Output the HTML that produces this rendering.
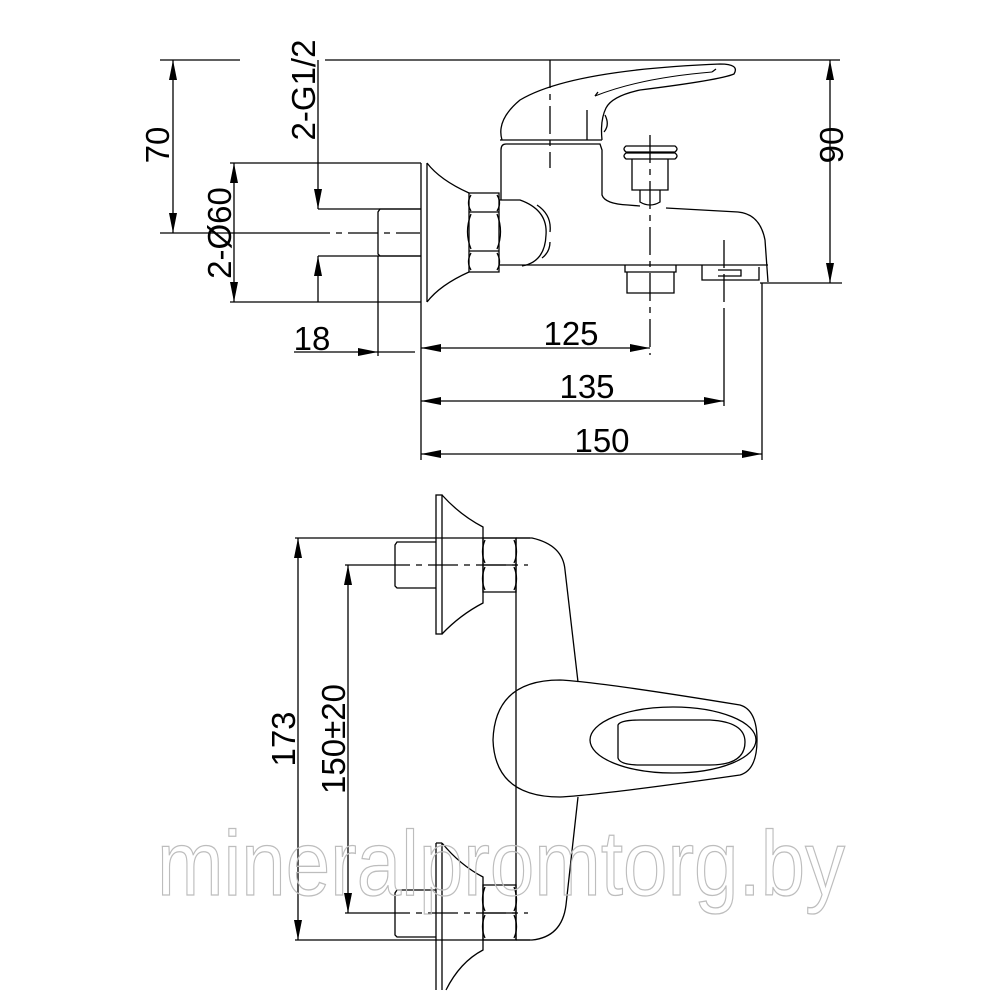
<!DOCTYPE html>
<html><head><meta charset="utf-8"><style>
html,body{margin:0;padding:0;background:#fff}
svg{display:block}
text{font-family:"Liberation Sans",sans-serif;fill:#000}
</style></head><body>
<svg width="1000" height="1000" viewBox="0 0 1000 1000" xmlns="http://www.w3.org/2000/svg">
<defs>
<marker id="a" viewBox="0 0 20 8" refX="20" refY="4" markerWidth="20" markerHeight="8" markerUnits="userSpaceOnUse" orient="auto-start-reverse"><path d="M0,0 L20,4 L0,8 Z" fill="#000"/></marker>
</defs>
<g fill="none" stroke="#000" stroke-width="1.3">
<line x1="160" y1="60" x2="240" y2="60"/>
<line x1="325" y1="60" x2="840" y2="60"/>
<line x1="173" y1="60" x2="173" y2="233" marker-start="url(#a)" marker-end="url(#a)"/>
<line x1="160" y1="233" x2="300" y2="233"/>
<line x1="300" y1="233" x2="420" y2="233" stroke-dasharray="30,6,6,6"/>
<line x1="230" y1="163" x2="421" y2="163"/>
<line x1="230" y1="302" x2="421" y2="302"/>
<line x1="234" y1="163" x2="234" y2="302" marker-start="url(#a)" marker-end="url(#a)"/>
<line x1="318" y1="60" x2="318" y2="209" marker-end="url(#a)"/>
<line x1="318" y1="302" x2="318" y2="256" marker-end="url(#a)"/>
<line x1="318" y1="209" x2="421" y2="209"/>
<line x1="318" y1="256" x2="421" y2="256"/>
<path d="M421,209 L380,209 L378,212 L378,254 L380,256 L421,256"/>
<line x1="378" y1="256" x2="378" y2="356"/>
<line x1="421" y1="163" x2="421" y2="460"/>
<line x1="427" y1="163" x2="427" y2="302"/>
<path d="M427,163 Q440,180 469,193"/>
<path d="M427,302 Q440,285 469,272"/>
<path d="M469,193 L499,193 L499,272 L469,272 Z"/>
<path d="M469,212 L499,212 M469,251 L499,251"/>
<path d="M471,195 Q466,203 471,211 M497,195 Q502,203 497,211 M471,214 Q464,232 471,249 M497,214 Q504,232 497,249 M471,253 Q466,262 471,270 M497,253 Q502,262 497,270"/>
<path d="M499,200 L520,200 Q548,210 546,235 Q545,262 522,266"/>
<path d="M537,205 Q552,215 550,232 M550,242 Q550,252 542,258"/>
<path d="M499,265 L768,265"/>
<path d="M501,200 L501,150 Q501,144 506,144 L600,144 L602,150 L602,195 Q605,204 628,205 L640,206"/>
<path d="M666,208 L738,212 Q760,214 765,240 L768,282"/>
<path d="M502,140 Q496,120 520,100 Q570,70 720,64 Q740,64 734,74 Q720,80 640,90 Q612,96 606,108 Q600,120 602,140"/>
<path d="M595,96 Q640,78 712,72" stroke-width="1"/>
<path d="M595,96 L598,92 M712,72 L716,69"/>
<path d="M587,110 L587,140"/>
<path d="M500,140 L602,140"/>
<path d="M605,115 Q610,125 604,132"/>
<path d="M626,146 L675,146 Q679,149 675,152 L626,152 Q622,149 626,146 Z"/>
<path d="M626,153 L675,153 Q679,156 675,159 L626,159 Q622,156 626,153 Z"/>
<path d="M632,159 L632,190 L668,190 L668,159"/>
<path d="M640,190 L640,202 Q650,208 660,202 L660,190"/>
<path d="M625,265 L625,272 L676,272 L676,265 M627,272 L627,293 L674,293 L674,272"/>
<path d="M702,265 L702,280 L759,280 L759,267"/>
<path d="M718,276 L741,276 L741,270 L718,270"/>
<line x1="760" y1="283" x2="842" y2="283"/>
<line x1="830" y1="60" x2="830" y2="283" marker-start="url(#a)" marker-end="url(#a)"/>
<line x1="550" y1="60" x2="550" y2="168" stroke-dasharray="28,6,6,6"/>
<line x1="650" y1="135" x2="650" y2="355" stroke-dasharray="28,6,6,6"/>
<line x1="724" y1="310" x2="724" y2="406"/>
<line x1="724" y1="240" x2="724" y2="310" stroke-dasharray="28,6"/>
<line x1="762" y1="283" x2="762" y2="460"/>
<line x1="294" y1="352" x2="378" y2="352" marker-end="url(#a)"/>
<line x1="378" y1="352" x2="415" y2="352"/>
<line x1="421" y1="348" x2="650" y2="348" marker-start="url(#a)" marker-end="url(#a)"/>
<line x1="421" y1="401" x2="724" y2="401" marker-start="url(#a)" marker-end="url(#a)"/>
<line x1="421" y1="454" x2="762" y2="454" marker-start="url(#a)" marker-end="url(#a)"/>

<line x1="295" y1="538" x2="530" y2="538"/>
<line x1="295" y1="940" x2="530" y2="940"/>
<line x1="298" y1="538" x2="298" y2="940" marker-start="url(#a)" marker-end="url(#a)"/>
<line x1="345" y1="565" x2="380" y2="565"/>
<line x1="380" y1="565" x2="528" y2="565" stroke-dasharray="30,6,6,6"/>
<line x1="345" y1="913" x2="380" y2="913"/>
<line x1="380" y1="913" x2="528" y2="913" stroke-dasharray="30,6,6,6"/>
<line x1="348" y1="565" x2="348" y2="913" marker-start="url(#a)" marker-end="url(#a)"/>
<rect x="436" y="495" width="6" height="139"/>
<path d="M442,495 Q460,515 483,527 L483,603 Q460,615 442,634"/>
<path d="M436,542 L397,542 L395,545 L395,586 L397,588 L436,588"/>
<path d="M483,538 L516,538 L516,592 L483,592 Z M483,565 L516,565"/>
<path d="M485,540 Q480,552 485,563 M514,540 Q519,552 514,563 M485,567 Q480,579 485,590 M514,567 Q519,579 514,590"/>
<path d="M436,843 L436,990 M442,843 L442,990 M436,843 L442,843"/>
<path d="M442,843 Q460,865 483,877 L483,950 Q460,962 446,990"/>
<path d="M436,890 L397,890 L395,893 L395,935 L397,937 L436,937"/>
<path d="M483,885 L516,885 L516,940 L483,940 Z M483,913 L516,913"/>
<path d="M485,887 Q480,900 485,911 M514,887 Q519,900 514,911 M485,915 Q480,927 485,938 M514,915 Q519,927 514,938"/>
<line x1="516" y1="538" x2="516" y2="940"/>
<path d="M516,538 L532,538 Q563,545 565,570 L578,682"/>
<path d="M578,797 L566,905 Q562,937 532,940 L516,940"/>
<path d="M560,680 Q600,682 740,705 Q757,710 757,740 Q757,770 740,775 Q600,795 560,797 Q495,797 493,740 Q495,680 560,680 Z"/>
<ellipse cx="673" cy="740" rx="83" ry="33"/>
<path d="M618,725 Q620,720 640,720 L710,720 Q745,722 745,742 Q745,765 710,765 L640,765 Q620,765 618,758 Z"/>
</g>
<g font-size="33">
<text transform="translate(169,145) rotate(-90)" text-anchor="middle">70</text>
<text transform="translate(315,90) rotate(-90)" text-anchor="middle">2-G1/2</text>
<text transform="translate(231,233) rotate(-90)" text-anchor="middle">2-Ø60</text>
<text transform="translate(843,145) rotate(-90)" text-anchor="middle">90</text>
<text x="312" y="350" text-anchor="middle">18</text>
<text x="571" y="345" text-anchor="middle">125</text>
<text x="587" y="398" text-anchor="middle">135</text>
<text x="602" y="452" text-anchor="middle">150</text>
<text transform="translate(295,739) rotate(-90)" text-anchor="middle">173</text>
<text transform="translate(345,739) rotate(-90)" text-anchor="middle">150±20</text>
</g>
<text x="157" y="895" font-size="92" textLength="688" lengthAdjust="spacingAndGlyphs" style="fill:none;stroke:#bdbdbd;stroke-width:1.3">mineralpromtorg.by</text>
</svg>
</body></html>
